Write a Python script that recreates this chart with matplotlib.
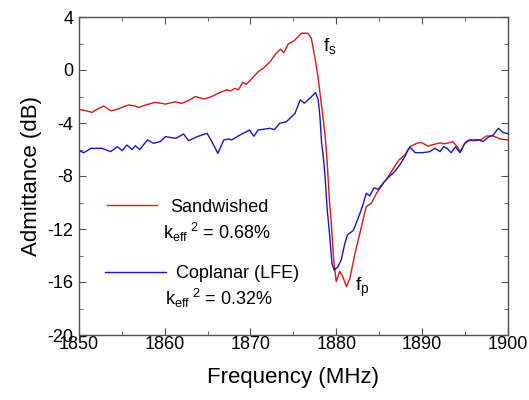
import numpy as np
import matplotlib
matplotlib.use('Agg')
import matplotlib.pyplot as plt

plt.rcParams['font.family'] = ['Liberation Sans', 'DejaVu Sans']
plt.rcParams['mathtext.fontset'] = 'custom'
plt.rcParams['mathtext.rm'] = 'Liberation Sans'
plt.rcParams['mathtext.it'] = 'Liberation Sans'
plt.rcParams['axes.unicode_minus'] = False

# Sandwished resonator (red)
freq_sand = [1850.0, 1850.8, 1851.55, 1852.1, 1852.9, 1853.7, 1854.3, 1855.05, 1855.8,
             1856.4, 1857.0, 1857.8, 1858.9, 1860.1, 1861.3, 1862.0, 1862.8, 1863.6,
             1864.6, 1865.5, 1866.4, 1867.2, 1867.7, 1868.2, 1868.6, 1869.1, 1869.55,
             1870.1, 1870.9, 1871.5, 1872.3, 1873.0, 1873.5, 1873.9, 1874.4, 1875.1,
             1875.95, 1876.7, 1877.1, 1877.5, 1877.9, 1878.3, 1878.7, 1878.95, 1879.2,
             1879.45, 1879.7, 1880.0, 1880.4, 1880.7, 1881.2, 1881.6, 1882.2, 1882.95,
             1883.5, 1884.1, 1884.7, 1885.1, 1885.5, 1886.05, 1886.6, 1887.3, 1888.0,
             1888.6, 1889.4, 1889.9, 1890.7, 1891.5, 1892.1, 1892.65, 1893.6, 1894.1,
             1894.5, 1894.9, 1895.3, 1896.35, 1896.9, 1897.5, 1898.3, 1899.1, 1900.0]
adm_sand = [-2.97, -3.07, -3.2, -2.97, -2.72, -3.07, -3.0, -2.82, -2.64,
            -2.7, -2.82, -2.64, -2.44, -2.57, -2.4, -2.52, -2.3, -2.0,
            -2.2, -2.0, -1.72, -1.5, -1.57, -1.38, -1.5, -0.93, -1.07,
            -0.7, -0.13, 0.13, 0.63, 1.26, 1.56, 1.31, 1.96, 2.21,
            2.77, 2.77, 2.39, 1.0, -0.63, -2.77, -4.9, -7.0, -9.8,
            -11.8, -14.3, -15.97, -15.2, -15.5, -16.35, -15.7, -13.8, -11.8,
            -10.3, -10.06, -9.3, -8.93, -8.55, -8.05, -7.5, -6.8, -6.4,
            -5.79, -5.53, -5.47, -5.74, -5.6, -5.5, -5.57, -5.41, -5.79,
            -6.16, -5.6, -5.33, -5.33, -5.25, -4.98, -4.98, -5.2, -5.28]

# Coplanar (LFE) resonator (blue)
freq_copl = [1850.0, 1850.6, 1851.4, 1852.7, 1853.7, 1854.5, 1855.05, 1855.6, 1856.2,
             1856.6, 1857.1, 1858.0, 1858.7, 1859.5, 1860.1, 1861.3, 1862.2, 1862.8,
             1863.8, 1864.95, 1865.5, 1866.2, 1866.9, 1867.5, 1867.8, 1868.8, 1869.9,
             1870.4, 1870.9, 1872.3, 1872.8, 1873.4, 1874.2, 1874.8, 1875.2, 1875.8,
             1876.3, 1876.9, 1877.6, 1877.9, 1878.1, 1878.3, 1878.5, 1878.7, 1878.95,
             1879.25, 1879.5, 1879.75, 1880.2, 1880.6, 1881.0, 1881.3, 1882.0, 1882.55,
             1883.1, 1883.5, 1883.9, 1884.4, 1884.9, 1885.5, 1886.25, 1886.8, 1887.4,
             1888.0, 1888.4, 1888.6, 1889.2, 1890.1, 1890.9, 1891.5, 1892.1, 1892.5,
             1892.9, 1893.4, 1893.9, 1894.4, 1895.0, 1895.5, 1896.15, 1896.5, 1897.1,
             1897.7, 1898.3, 1898.9, 1899.45, 1900.0]
adm_copl = [-6.09, -6.24, -5.91, -5.91, -6.16, -5.79, -6.09, -5.66, -6.0,
            -5.72, -6.0, -5.28, -5.53, -5.4, -5.03, -5.16, -4.83, -5.33,
            -5.03, -4.78, -5.4, -6.29, -5.28, -5.2, -5.28, -4.9, -4.53,
            -5.0, -4.53, -4.4, -4.5, -4.02, -3.9, -3.52, -3.27, -2.26,
            -2.5, -2.14, -1.71, -2.26, -3.52, -5.53, -6.6, -8.05, -10.57,
            -12.58, -14.6, -15.1, -14.85, -14.3, -13.1, -12.45, -12.1, -11.2,
            -10.2, -9.3, -9.5, -8.9, -9.0, -8.5, -8.0, -7.67, -7.17,
            -6.54, -5.99, -5.83, -6.24, -6.24, -6.16, -5.91, -6.16, -5.79,
            -5.91, -6.24, -5.79, -6.24, -5.53, -5.28, -5.28, -5.25, -5.4,
            -5.08, -4.9, -4.4, -4.73, -4.8]

labels = ['Sandwished', 'Coplanar (LFE)']
keff = ['0.68%', '0.32%']

red = '#d81818'
blue = '#1818c0'

fig = plt.figure(figsize=(5.29, 4.0), dpi=100)
ax = fig.add_axes([0.149, 0.1625, 0.811, 0.795])

l1, = ax.plot(freq_sand, adm_sand, color=red, lw=1.0, solid_joinstyle='round')
l2, = ax.plot(freq_copl, adm_copl, color=blue, lw=1.0, solid_joinstyle='round')

ax.set_xlim(1850, 1900)
ax.set_ylim(-20, 4)
ax.set_xticks(np.arange(1850, 1901, 10))
ax.set_xticks(np.arange(1850, 1901, 5), minor=True)
ax.set_yticks(np.arange(-20, 5, 4))
ax.set_yticks(np.arange(-20, 5, 2), minor=True)
ax.tick_params(which='both', direction='in', top=True, right=True,
               color='#505050', labelsize=13)
ax.tick_params(which='major', length=5)
ax.tick_params(which='minor', length=3)
ax.tick_params(axis='x', pad=1)
ax.tick_params(axis='y', pad=4)
for sp in ax.spines.values():
    sp.set_color('#505050')
    sp.set_linewidth(1.0)

ax.set_xlabel('Frequency (MHz)', fontsize=16, labelpad=10)
ax.set_ylabel('Admittance (dB)', fontsize=16, labelpad=4)

leg1 = ax.legend([l1], [labels[0]], loc='center left', bbox_to_anchor=(0.065, 0.4025),
                 frameon=False, fontsize=13, borderpad=0, borderaxespad=0,
                 handlelength=2.8, handletextpad=0.7)
ax.add_artist(leg1)
ax.legend([l2], [labels[1]], loc='center left', bbox_to_anchor=(0.06, 0.192),
          frameon=False, fontsize=13, borderpad=0, borderaxespad=0,
          handlelength=3.4, handletextpad=0.55)

ax.text(0.322, 0.324, r'k$_{\mathrm{eff}}$$^{\ 2}$ = ' + keff[0], transform=ax.transAxes,
        ha='center', va='center', fontsize=13)
ax.text(0.326, 0.116, r'k$_{\mathrm{eff}}$$^{\ 2}$ = ' + keff[1], transform=ax.transAxes,
        ha='center', va='center', fontsize=13)

ax.text(1878.4, 1.8, r'f$_{\mathrm{s}}$', ha='left', va='center', fontsize=14)
ax.text(1882.2, -16.4, r'f$_{\mathrm{p}}$', ha='left', va='center', fontsize=14)

fig.savefig('out.png', dpi=100)
